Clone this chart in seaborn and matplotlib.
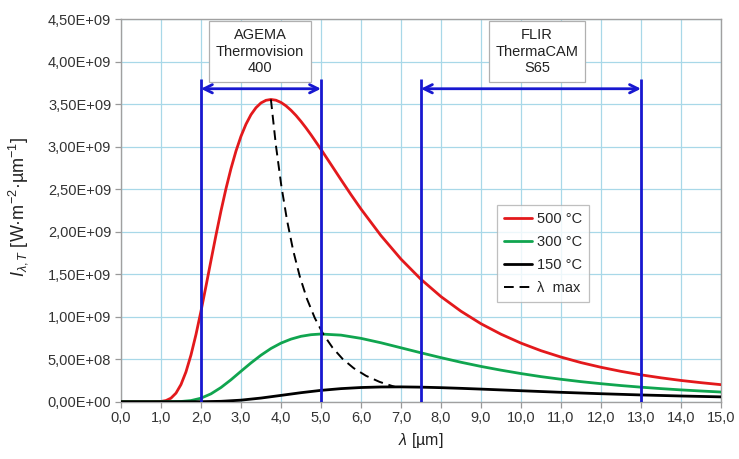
import numpy as np
import pandas as pd
import matplotlib
matplotlib.use("Agg")
import matplotlib.pyplot as plt
import seaborn as sns
from matplotlib.ticker import FuncFormatter
from matplotlib.patches import FancyArrowPatch

# ---------------- data (values in units of 1E+09) ----------------
lam_500 = [0.0, 0.5, 0.75, 1.0, 1.125, 1.25, 1.375, 1.5, 1.625, 1.75, 1.875, 2.0, 2.125,
           2.25, 2.375, 2.5, 2.625, 2.75, 2.875, 3.0, 3.125, 3.25, 3.375, 3.5, 3.625, 3.75,
           3.875, 4.0, 4.125, 4.25, 4.375, 4.5, 4.625, 4.75, 5.0, 5.25, 5.5, 5.75, 6.0, 6.5,
           7.0, 7.5, 8.0, 8.5, 9.0, 9.5, 10.0, 10.5, 11.0, 11.5, 12.0, 12.5, 13.0, 13.5,
           14.0, 14.5, 15.0]
val_500 = [0.0, 0.0, 0.0, 0.003, 0.0136, 0.042, 0.1008, 0.2015, 0.3509, 0.549, 0.790,
           1.064, 1.358, 1.660, 1.958, 2.243, 2.505, 2.741, 2.947, 3.121, 3.263, 3.375,
           3.457, 3.513, 3.544, 3.554, 3.545, 3.519, 3.479, 3.427, 3.366, 3.296, 3.220,
           3.139, 2.968, 2.790, 2.611, 2.435, 2.266, 1.953, 1.677, 1.439, 1.236, 1.064,
           0.917, 0.794, 0.689, 0.600, 0.525, 0.460, 0.405, 0.357, 0.316, 0.281, 0.250,
           0.224, 0.2005]

lam_300 = [0.0, 1.0, 1.5, 1.75, 2.0, 2.25, 2.5, 2.75, 3.0, 3.25, 3.5, 3.75, 4.0, 4.25, 4.5,
           4.75, 5.0, 5.5, 6.0, 6.5, 7.0, 7.5, 8.0, 8.5, 9.0, 9.5, 10.0, 10.5, 11.0, 11.5,
           12.0, 12.5, 13.0, 13.5, 14.0, 14.5, 15.0]
val_300 = [0.0, 0.0, 0.0027, 0.0134, 0.0414, 0.0926, 0.167, 0.258, 0.358, 0.456, 0.547,
           0.626, 0.689, 0.736, 0.769, 0.788, 0.796, 0.783, 0.745, 0.693, 0.634, 0.575,
           0.518, 0.464, 0.415, 0.371, 0.331, 0.295, 0.264, 0.236, 0.212, 0.190, 0.171,
           0.154, 0.139, 0.126, 0.114]

lam_150 = [0.0, 1.0, 2.0, 2.5, 3.0, 3.5, 4.0, 4.5, 5.0, 5.5, 6.0, 6.5, 7.0, 7.5, 8.0, 8.5,
           9.0, 9.5, 10.0, 11.0, 12.0, 13.0, 14.0, 15.0]
val_150 = [0.0, 0.0, 0.0005, 0.0047, 0.0184, 0.0430, 0.0743, 0.1061, 0.1335, 0.1539,
           0.1670, 0.1734, 0.1744, 0.1712, 0.1652, 0.1573, 0.1483, 0.1388, 0.1292, 0.1106,
           0.0940, 0.0795, 0.0673, 0.0570]

lam_max = [3.748, 3.873, 4.007, 4.151, 4.305, 4.471, 4.650, 4.845, 5.056, 5.287, 5.539,
           5.817, 6.125, 6.466, 6.848]
val_max = [3.555, 3.016, 2.545, 2.134, 1.778, 1.472, 1.209, 0.985, 0.796, 0.637, 0.504,
           0.395, 0.305, 0.233, 0.1745]

series_labels = ["500 °C", "300 °C", "150 °C", "λ  max"]
series_colors = ["#e3191c", "#10a54f", "#000000", "#000000"]

x_ticks = [float(i) for i in range(0, 16)]
y_ticks = [0.0, 0.5, 1.0, 1.5, 2.0, 2.5, 3.0, 3.5, 4.0, 4.5]

cam_ranges = [(2.0, 5.0), (7.5, 13.0)]
cam_names = ["AGEMA\nThermovision\n400", "FLIR\nThermaCAM\nS65"]
cam_label_x = [3.48, 10.4]

# ---------------- style ----------------
sns.set_theme(style="white")
plt.rcParams["font.family"] = ["Liberation Sans Narrow", "Liberation Sans", "DejaVu Sans"]
plt.rcParams["mathtext.fontset"] = "custom"
plt.rcParams["mathtext.rm"] = "Liberation Sans"
plt.rcParams["mathtext.it"] = "Liberation Sans:italic"

fig = plt.figure(figsize=(7.39, 4.59), dpi=100)
ax = fig.add_axes([0.1637, 0.1248, 0.8119, 0.8338])

grid_c = "#a8d8e8"
for x in x_ticks:
    ax.axvline(x, color=grid_c, lw=0.9, zorder=0)
for y in y_ticks:
    ax.axhline(y, color=grid_c, lw=0.9, zorder=0)

dfs = [
    pd.DataFrame({"lam": lam_500, "I": val_500}),
    pd.DataFrame({"lam": lam_300, "I": val_300}),
    pd.DataFrame({"lam": lam_150, "I": val_150}),
]
for df, lab, col in zip(dfs, series_labels[:3], series_colors[:3]):
    sns.lineplot(data=df, x="lam", y="I", ax=ax, color=col, lw=2.0, label=lab,
                 estimator=None, sort=False, zorder=4)
dfm = pd.DataFrame({"lam": lam_max, "I": val_max})
sns.lineplot(data=dfm, x="lam", y="I", ax=ax, color=series_colors[3], lw=1.4,
             linestyle=(0, (5, 3)), label=series_labels[3], estimator=None, sort=False, zorder=5)

# camera ranges
blue = "#1818d0"
for (a, b), name, tx in zip(cam_ranges, cam_names, cam_label_x):
    ax.vlines([a, b], 0, 3.8, color=blue, lw=2.0, zorder=6)
    arr = FancyArrowPatch((a, 3.68), (b, 3.68), arrowstyle="<->,head_length=6,head_width=3",
                          color=blue, lw=2.0, mutation_scale=1, zorder=6, shrinkA=0, shrinkB=0)
    ax.add_patch(arr)
    ax.text(tx, 4.115, name, ha="center", va="center",
            fontsize=10.5, color="#222222", linespacing=1.25, zorder=7,
            bbox=dict(boxstyle="square,pad=0.45", fc="white", ec="#b0b0b0", lw=0.9))

ax.set_xlim(0, 15)
ax.set_ylim(0, 4.5)
ax.set_xticks(x_ticks)
ax.set_yticks(y_ticks)
ax.xaxis.set_major_formatter(FuncFormatter(lambda v, p: f"{v:.1f}".replace(".", ",")))


def yfmt(v, p):
    val = v * 1e9
    if val == 0:
        return "0,00E+00"
    return f"{val:.2E}".replace(".", ",")


ax.yaxis.set_major_formatter(FuncFormatter(yfmt))
ax.tick_params(axis="both", which="major", labelsize=10.5, colors="#333333",
               length=4, width=0.9, direction="out", color="#999999", pad=3,
               bottom=True, left=True)
for s in ax.spines.values():
    s.set_color("#a0a0a0")
    s.set_linewidth(1.0)
    s.set_visible(True)

ax.set_xlabel(r"$\lambda$ [µm]", fontsize=11.5, color="#222222", labelpad=4)
ax.set_ylabel(r"$I_{\lambda,T}$ [W·m$^{-2}$·µm$^{-1}$]", fontsize=13, color="#222222")
ax.yaxis.set_label_coords(-0.152, 0.51)

leg = ax.legend(loc="upper right", bbox_to_anchor=(0.78, 0.515), frameon=True,
                fancybox=False, edgecolor="#b0b0b0", fontsize=10.5, handlelength=1.9,
                handletextpad=0.3, borderpad=0.5, labelspacing=0.62, borderaxespad=0)
leg.get_frame().set_linewidth(0.9)
leg.set_zorder(8)

fig.savefig("out.png", dpi=100)
